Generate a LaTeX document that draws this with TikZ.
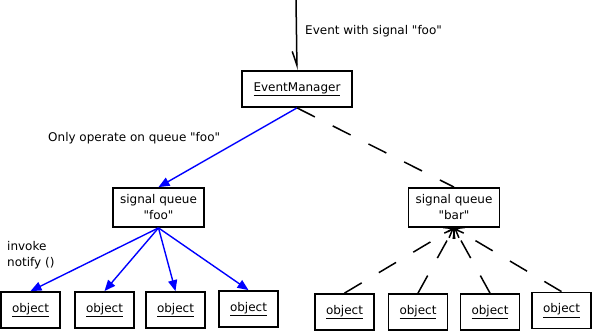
\documentclass[tikz,border=0pt]{standalone}
\usepackage{fontspec}
\setmainfont{DejaVu Sans}[Ligatures=TeXOff]
\usetikzlibrary{arrows.meta,positioning}
\definecolor{CallClr}{RGB}{0,0,255}

\begin{document}
\begin{tikzpicture}[x=1pt,y=-1pt,
  font=\fontsize{12}{16}\selectfont,
  box/.style={draw,line width=1.8pt,inner sep=0pt,align=center},
  objbox/.style={box,minimum width=59pt,minimum height=36pt},
  qbox/.style={box,minimum width=91pt,minimum height=39pt},
  note/.style={inner sep=0pt,anchor=west,align=left},
  call/.style={line width=1.4pt,color=CallClr,-{Triangle[length=11pt,width=9pt]}},
  idle/.style={line width=1.5pt,dash pattern=on 20pt off 20pt},
  reply/.style={idle,-{Straight Barb[length=8pt,width=12pt,line width=1.5pt]}}]
\useasboundingbox (0,0) rectangle (593,331);

\node[box,minimum width=110pt,minimum height=36pt] (em) at (297,89) {\underline{EventManager}};
\node[qbox] (qfoo) at (158.5,207.5) {signal queue\\"foo"};
\node[qbox] (qbar) at (454,207.5) {signal queue\\"bar"};

\foreach \x/\y [count=\i] in {30.5/310,104.5/310,175.5/310,248.5/309}
  \node[objbox] (fo\i) at (\x,\y) {\underline{object}};
\foreach \x/\y [count=\i] in {344.5/312,418/312,490/312,561.5/310.5}
  \node[objbox] (bo\i) at (\x,\y) {\underline{object}};

\coordinate (src) at (296,0);
\draw[line width=1.5pt,-{Straight Barb[harpoon,swap,length=14pt,width=9pt,line width=1.5pt]}] (src) -- (em.north);

\draw[call] (em.south) -- (qfoo.north);
\draw[idle] (em.south) -- (qbar.north);
\foreach \i in {1,...,4} \draw[call] (qfoo.south) -- (fo\i.north);
\foreach \i in {1,...,4} \draw[reply] (bo\i.north) -- (qbar.south);

\node[note] (evlbl) at (305,31) {Event with signal "foo"};
\node[note] (oplbl) at (48,138) {Only operate on queue "foo"};
\node[note] (nflbl) at (7,255) {invoke\\notify ()};

\end{tikzpicture}
\end{document}
